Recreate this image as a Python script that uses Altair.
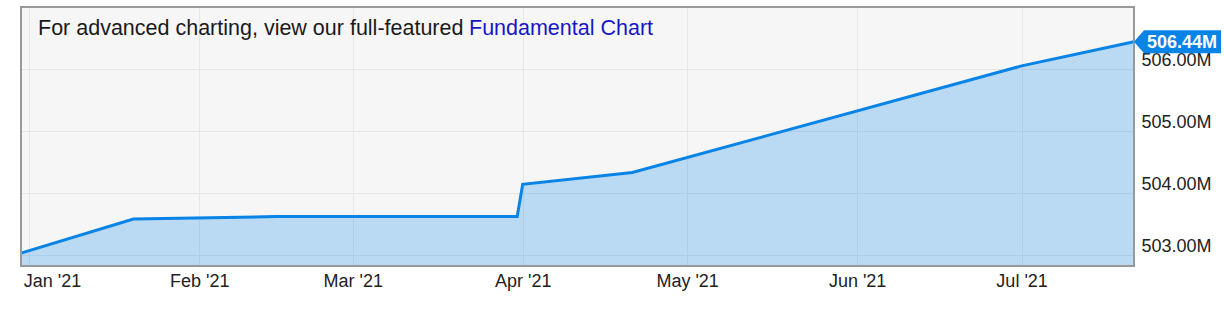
import altair as alt
import pandas as pd

# ---- data ----
dates = [
    "2020-12-30T12:00:00",
    "2021-01-20T00:00:00",
    "2021-02-15T00:00:00",
    "2021-03-31T00:00:00",
    "2021-04-01T00:00:00",
    "2021-04-21T00:00:00",
    "2021-07-01T00:00:00",
    "2021-07-21T12:00:00",
]
shares_m = [503.03, 503.58, 503.62, 503.62, 504.14, 504.33, 506.05, 506.44]
y_ticks = [503, 504, 505, 506]
x_tick_months = [1, 2, 3, 4, 5, 6, 7]
header_main = "For advanced charting, view our full-featured "
header_link = "Fundamental Chart"

LINE = "#0883e6"
FONT = "Liberation Sans"
W, H = 1113, 259

df = pd.DataFrame({"date": dates, "shares": shares_m})
last = df.iloc[[-1]].copy()

x_enc = alt.X(
    "date:T",
    scale=alt.Scale(nice=False, padding=0),
    axis=alt.Axis(
        values=[alt.DateTime(year=2021, month=m, date=1) for m in x_tick_months],
        labelExpr="timeFormat(datum.value, \"%b '%y\")",
        ticks=False,
        domain=False,
        title=None,
        labelFontSize=18,
        labelFont=FONT,
        labelColor="#222222",
        labelPadding=6,
        labelBaseline="top",
        labelAlign={"condition": {"test": "month(datum.value) === 0", "value": "left"}, "value": "center"},
        labelOffset={"condition": {"test": "month(datum.value) === 0", "value": -6}, "value": 0},
        gridColor="#e6e6e6",
        gridWidth=1,
    ),
)
y_enc = alt.Y(
    "shares:Q",
    scale=alt.Scale(domain=[502.823, 507.0], nice=False, zero=False),
    axis=alt.Axis(
        orient="right",
        values=y_ticks,
        labelExpr="format(datum.value, '.2f') + 'M'",
        ticks=False,
        domain=False,
        title=None,
        labelFontSize=18,
        labelFont=FONT,
        labelColor="#222222",
        labelPadding=7,
        labelAlign="left",
        labelBaseline="middle",
        labelOffset=-9,
        gridColor="#e6e6e6",
        gridWidth=1,
    ),
)

base = alt.Chart(df)
area = base.mark_area(color=LINE, opacity=0.25, clip=True).encode(x=x_enc, y=y_enc)
line = base.mark_line(color=LINE, strokeWidth=3).encode(x="date:T", y="shares:Q")

border = alt.Chart(pd.DataFrame({"a": [0]})).mark_rect(
    filled=False, stroke="#999999", strokeWidth=2
).encode(x=alt.value(0), x2=alt.value(W), y=alt.value(0), y2=alt.value(H))

tag = alt.Chart(last).mark_point(
    shape="M0,0 L10,-11.5 L87,-11.5 L87,11.5 L10,11.5 Z",
    size=4,
    filled=True,
    opacity=1,
    color=LINE,
).encode(x="date:T", y="shares:Q")

tag_text = alt.Chart(last).transform_calculate(
    label="format(datum.shares, '.2f') + 'M'"
).mark_text(
    align="center", baseline="middle", dx=48, dy=1,
    font=FONT, fontSize=18, fontWeight="bold", color="white",
).encode(x="date:T", y="shares:Q", text="label:N")

head1 = alt.Chart(pd.DataFrame({"t": [header_main]})).mark_text(
    align="left", baseline="alphabetic", font=FONT, fontSize=21.5, color="#1a1a1a"
).encode(x=alt.value(17), y=alt.value(28), text="t:N")

head2 = alt.Chart(pd.DataFrame({"t": [header_link]})).mark_text(
    align="left", baseline="alphabetic", font=FONT, fontSize=21.5, color="#1616c8"
).encode(x=alt.value(448), y=alt.value(28), text="t:N")

chart = alt.layer(area, line, border, head1, head2, tag, tag_text).properties(
    width=W,
    height=H,
    padding={"left": 21, "top": 7, "right": 90, "bottom": 51},
    autosize=alt.AutoSizeParams(type="none"),
    background="white",
).configure_view(fill="#f6f6f6", stroke=None)

chart.save("out.html", embed_options={"renderer": "svg", "actions": False})
